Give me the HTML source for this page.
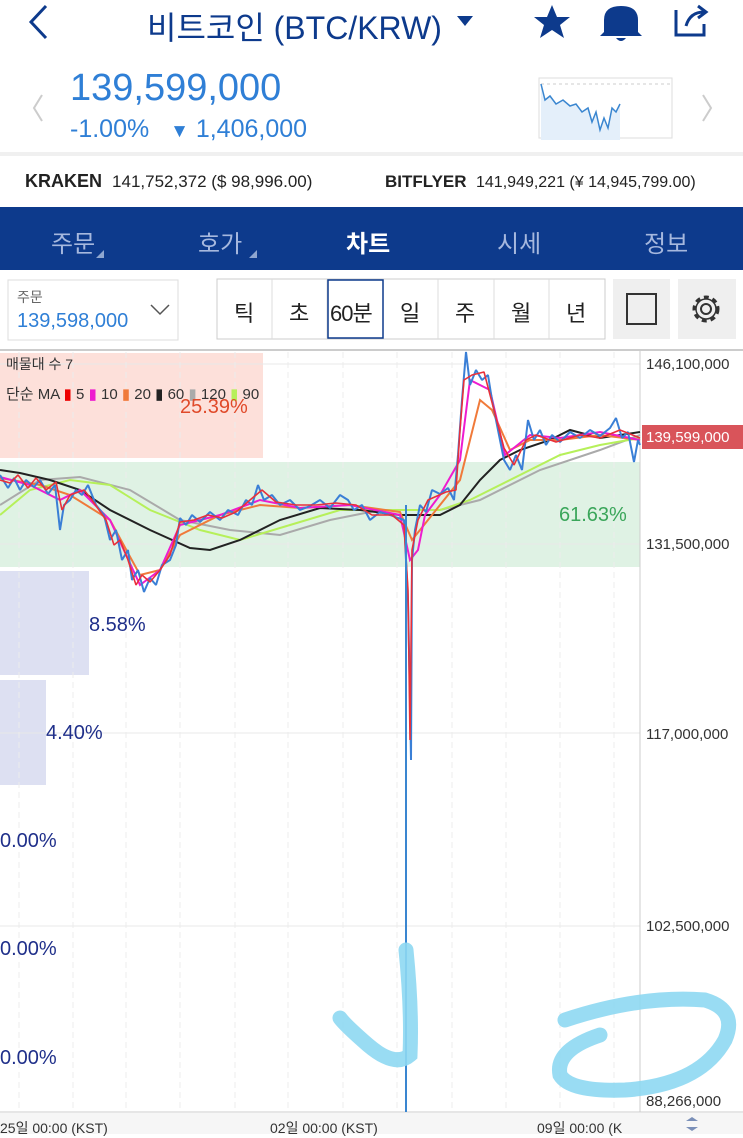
<!DOCTYPE html>
<html><head><meta charset="utf-8"><style>
*{margin:0;padding:0;box-sizing:border-box}
body{width:743px;height:1134px;overflow:hidden;background:#fff;font-family:"Liberation Sans","Noto Sans CJK KR",sans-serif;position:relative}
.a{position:absolute;white-space:nowrap}
</style></head><body>
<svg class="a" style="left:0;top:0" width="743" height="345">
<polyline points="46,6 31,22 46,38" fill="none" stroke="#0d3a8c" stroke-width="3"/>
<polygon points="457,16 473,16 465,26" fill="#0d3a8c"/>
<polygon points="552,5 557,17 570,17 560,25 564,38 552,30 540,38 544,25 534,17 547,17" fill="#0d3a8c"/>
<path d="M604,32 L604,20 Q604,6 621,6 Q638,6 638,20 L638,32 L642,36 L600,36 Z M616,38 Q621,44 626,38" fill="#0d3a8c"/>
<path d="M676,10 L676,35 L704,35 L704,24 M686,26 Q690,12 704,12 M698,6 L706,12 L698,18" fill="none" stroke="#0d3a8c" stroke-width="3"/>
<polyline points="42,95 34,108 42,121" fill="none" stroke="#ccc" stroke-width="2"/>
<polyline points="703,95 711,108 703,121" fill="none" stroke="#ccc" stroke-width="2"/>
<rect x="539" y="78" width="133" height="60" fill="#fff" stroke="#ddd"/>
<line x1="541" y1="84" x2="670" y2="84" stroke="#ccc" stroke-dasharray="3,3"/>
<path d="M541,84 L545,100 550,96 556,104 563,100 570,106 576,104 582,112 588,108 592,122 596,112 600,130 604,118 608,128 612,108 616,112 620,104 L620,140 L541,140Z" fill="#e4effa"/>
<polyline points="541,84 545,100 550,96 556,104 563,100 570,106 576,104 582,112 588,108 592,122 596,112 600,130 604,118 608,128 612,108 616,112 620,104" fill="none" stroke="#3a86d0" stroke-width="1.5"/>
<rect x="0" y="152" width="743" height="4" fill="#f0f0f0"/>
<rect x="0" y="207" width="743" height="63" fill="#0d3a8c"/>
<polygon points="96,258 104,258 104,250" fill="#8ea6d0"/><polygon points="249,258 257,258 257,250" fill="#8ea6d0"/>
<rect x="8" y="280" width="170" height="60" fill="#fff" stroke="#ddd"/>
<polyline points="151,305 160,314 169,305" fill="none" stroke="#555" stroke-width="1.5"/>
<rect x="217" y="279" width="388" height="60" fill="#fff" stroke="#ccc"/>
<g stroke="#ddd"><line x1="272" y1="279" x2="272" y2="339"/><line x1="327" y1="279" x2="327" y2="339"/><line x1="383" y1="279" x2="383" y2="339"/><line x1="438" y1="279" x2="438" y2="339"/><line x1="494" y1="279" x2="494" y2="339"/><line x1="549" y1="279" x2="549" y2="339"/></g>
<rect x="328" y="280" width="55" height="58" fill="none" stroke="#0d3a8c" stroke-width="1.5"/>
<rect x="613" y="279" width="57" height="60" fill="#efefef"/><rect x="627" y="294" width="29" height="30" fill="none" stroke="#333" stroke-width="2"/>
<rect x="678" y="279" width="58" height="60" fill="#efefef"/>
<circle cx="706" cy="309" r="5" fill="none" stroke="#333" stroke-width="2"/>
<circle cx="706" cy="309" r="12" fill="none" stroke="#333" stroke-width="3" stroke-dasharray="5,4"/>
<circle cx="706" cy="309" r="10" fill="none" stroke="#333" stroke-width="1.5"/>
</svg>
<div class="a" style="left:147px;top:3px;font-size:32px;color:#0d3a8c">비트코인 (BTC/KRW)</div>
<div class="a" style="left:70px;top:67px;font-size:38px;color:#2f7fd6">139,599,000</div>
<div class="a" style="left:70px;top:115px;font-size:25px;color:#2f7fd6">-1.00% &nbsp;&nbsp;<span style="font-size:19px">▼</span> 1,406,000</div>
<div class="a" style="left:25px;top:171px;font-size:18px;color:#222"><b>KRAKEN</b>&nbsp; <span style="font-size:17px">141,752,372 ($ 98,996.00)</span></div>
<div class="a" style="left:385px;top:172px;font-size:17px;color:#222"><b>BITFLYER</b>&nbsp; <span style="font-size:16px">141,949,221 (¥ 14,945,799.00)</span></div>
<div class="a" style="left:51px;top:224px;font-size:24px;color:#a6b8de">주문</div>
<div class="a" style="left:198px;top:224px;font-size:24px;color:#a6b8de">호가</div>
<div class="a" style="left:346px;top:224px;font-size:24px;color:#fff;font-weight:bold">차트</div>
<div class="a" style="left:497px;top:224px;font-size:24px;color:#a6b8de">시세</div>
<div class="a" style="left:644px;top:224px;font-size:24px;color:#a6b8de">정보</div>
<div class="a" style="left:17px;top:287px;font-size:14px;color:#666">주문</div>
<div class="a" style="left:17px;top:310px;font-size:20px;color:#2f7fd6">139,598,000</div>
<div class="a" style="left:234px;top:296px;font-size:22px;color:#222">틱</div>
<div class="a" style="left:289px;top:296px;font-size:22px;color:#222">초</div>
<div class="a" style="left:330px;top:296px;font-size:22px;color:#222;letter-spacing:-1px">60분</div>
<div class="a" style="left:400px;top:296px;font-size:22px;color:#222">일</div>
<div class="a" style="left:455px;top:296px;font-size:22px;color:#222">주</div>
<div class="a" style="left:511px;top:296px;font-size:22px;color:#222">월</div>
<div class="a" style="left:566px;top:296px;font-size:22px;color:#222">년</div>
<svg class="a" style="left:0;top:345px" width="743" height="789" viewBox="0 345 743 789">
<line x1="0" y1="350" x2="743" y2="350" stroke="#ccc" stroke-width="2"/>
<rect x="0" y="353" width="263" height="105" fill="#fde0da"/>
<rect x="0" y="462" width="640" height="105" fill="#dff2e4"/>
<rect x="0" y="571" width="89" height="104" fill="#dde0f2"/>
<rect x="0" y="680" width="46" height="105" fill="#dde0f2"/>
<g stroke="#e8e8e8"><line x1="0" y1="364" x2="640" y2="364"/><line x1="0" y1="544" x2="640" y2="544"/><line x1="0" y1="733" x2="640" y2="733"/><line x1="0" y1="926" x2="640" y2="926"/></g>
<g stroke="#ececec" stroke-dasharray="6,4">
<line x1="19" y1="352" x2="19" y2="1112"/><line x1="73" y1="352" x2="73" y2="1112"/><line x1="126" y1="352" x2="126" y2="1112"/><line x1="180" y1="352" x2="180" y2="1112"/><line x1="235" y1="352" x2="235" y2="1112"/><line x1="288" y1="352" x2="288" y2="1112"/><line x1="343" y1="352" x2="343" y2="1112"/><line x1="397" y1="352" x2="397" y2="1112"/><line x1="452" y1="352" x2="452" y2="1112"/><line x1="506" y1="352" x2="506" y2="1112"/><line x1="560" y1="352" x2="560" y2="1112"/><line x1="614" y1="352" x2="614" y2="1112"/></g>
<line x1="640" y1="350" x2="640" y2="1112" stroke="#ccc"/>
<line x1="0" y1="1112" x2="743" y2="1112" stroke="#ccc"/>
<rect x="0" y="1113" width="743" height="21" fill="#f6f6f6"/>
<polyline fill="none" stroke="#aaa" stroke-width="2" points="0,505 40,480 80,477 130,490 180,520 230,530 280,535 330,520 380,510 440,510 480,500 540,470 600,450 640,435"/>
<polyline fill="none" stroke="#b6f05a" stroke-width="2" points="0,515 30,490 70,480 110,485 150,510 200,530 240,540 290,525 340,510 380,510 440,510 470,500 520,475 560,455 600,445 640,438"/>
<polyline fill="none" stroke="#222" stroke-width="2" points="0,470 20,473 50,480 80,490 110,510 150,530 190,548 210,550 240,540 280,520 320,508 360,510 400,515 440,515 460,505 480,480 500,460 520,450 550,440 570,430 600,438 640,432"/>
<polyline fill="none" stroke="#f07a3a" stroke-width="2" points="0,478 40,485 70,495 110,520 140,575 160,570 180,535 220,515 260,505 300,508 350,505 400,512 412,540 420,530 440,505 460,480 480,400 492,410 510,450 530,440 560,440 600,435 640,440"/>
<polyline fill="none" stroke="#ee1ccf" stroke-width="2" points="0,477 30,485 60,500 80,490 110,520 140,585 160,570 180,525 220,515 260,500 300,508 350,505 400,515 410,560 418,550 425,515 440,495 460,460 470,380 490,390 505,455 530,435 560,438 600,432 640,440"/>
<polyline fill="none" stroke="#3a7fd6" stroke-width="2" stroke-linejoin="bevel" points="0,475 8,488 14,478 20,490 26,480 34,487 40,480 48,494 55,485 60,530 64,505 70,500 76,490 82,495 88,485 96,505 104,515 110,540 116,530 122,560 128,550 132,580 138,570 144,592 150,578 156,585 162,565 170,560 176,545 180,518 186,525 192,515 200,522 210,512 220,520 228,510 238,515 246,500 252,505 258,485 264,500 272,495 280,505 290,500 300,510 310,506 320,500 330,508 340,495 348,500 354,510 362,505 370,520 380,512 390,515 398,518 404,520 406,560 408,600 410,700 411,760 412,560 415,530 420,505 426,512 432,490 440,494 448,488 454,500 458,455 462,400 466,352 470,385 476,370 482,380 488,375 492,400 496,420 500,440 504,460 510,470 516,455 522,470 528,420 534,440 540,430 546,445 552,435 560,442 570,432 580,438 590,430 600,436 610,428 616,418 622,438 628,432 634,462 638,440 640,445"/>
<polyline fill="none" stroke="#e8303a" stroke-width="1.6" stroke-linejoin="bevel" points="0,480 10,483 18,475 28,488 36,478 46,490 56,482 62,510 70,495 84,490 92,500 106,520 114,545 120,540 128,560 136,585 142,575 150,582 160,570 170,555 180,522 194,520 208,515 222,518 236,512 250,500 262,490 276,502 296,505 316,505 336,503 356,505 372,515 392,515 404,525 408,590 410,740 412,550 418,520 428,500 446,492 456,490 460,430 464,380 472,375 484,372 494,410 504,448 514,465 526,440 536,435 556,442 580,435 600,438 620,430 640,438"/>
<line x1="406" y1="505" x2="406" y2="1112" stroke="#3a86d0" stroke-width="2"/>
<g fill="none" stroke="#8ed8f2" stroke-width="15" stroke-linecap="round" opacity="0.9">
<path d="M406,950 Q412,1010 410,1055 Q395,1068 368,1045 Q345,1025 340,1018"/>
<path d="M565,1020 Q640,995 705,1000 Q738,1010 725,1040 Q700,1085 625,1090 Q570,1092 560,1075 Q555,1050 600,1035"/>
</g>
<rect x="642" y="425" width="101" height="24" fill="#d9545a"/>
<polygon points="686,1121 692,1117 698,1121" fill="#7a8fb8"/><polygon points="686,1127 692,1131 698,1127" fill="#7a8fb8"/>
</svg>
<div class="a" style="left:6px;top:354px;font-size:14px;color:#333">매물대 수 7</div>
<div class="a" style="left:6px;top:383px;font-size:15px;color:#333">단순 MA <span style="color:#e00">▮</span> 5 <span style="color:#ee1ccf">▮</span> 10 <span style="color:#f07a3a">▮</span> 20 <span style="color:#222">▮</span> 60 <span style="color:#aaa">▮</span> 120 <span style="color:#b6f05a">▮</span> 90</div>
<div class="a" style="left:180px;top:396px;font-size:20px;color:#e04a2a">25.39%</div>
<div class="a" style="left:559px;top:504px;font-size:20px;color:#3aa65a">61.63%</div>
<div class="a" style="left:89px;top:614px;font-size:20px;color:#1f2f8a">8.58%</div>
<div class="a" style="left:46px;top:722px;font-size:20px;color:#1f2f8a">4.40%</div>
<div class="a" style="left:0;top:830px;font-size:20px;color:#1f2f8a">0.00%</div>
<div class="a" style="left:0;top:938px;font-size:20px;color:#1f2f8a">0.00%</div>
<div class="a" style="left:0;top:1047px;font-size:20px;color:#1f2f8a">0.00%</div>
<div class="a" style="left:646px;top:356px;font-size:15px;color:#333">146,100,000</div>
<div class="a" style="left:646px;top:429px;font-size:15px;color:#fff">139,599,000</div>
<div class="a" style="left:646px;top:536px;font-size:15px;color:#333">131,500,000</div>
<div class="a" style="left:646px;top:726px;font-size:15px;color:#333">117,000,000</div>
<div class="a" style="left:646px;top:918px;font-size:15px;color:#333">102,500,000</div>
<div class="a" style="left:646px;top:1093px;font-size:15px;color:#333">88,266,000</div>
<div class="a" style="left:0;top:1118px;font-size:14px;color:#333">25일 00:00 (KST)</div>
<div class="a" style="left:270px;top:1118px;font-size:14px;color:#333">02일 00:00 (KST)</div>
<div class="a" style="left:537px;top:1118px;font-size:14px;color:#333">09일 00:00 (K</div>
</body></html>
